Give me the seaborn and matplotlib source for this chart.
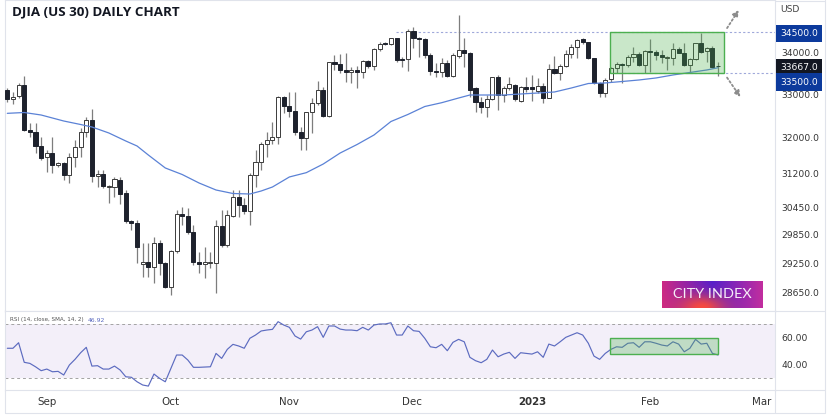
import numpy as np
import pandas as pd
import matplotlib
matplotlib.use("Agg")
import matplotlib.pyplot as plt
import seaborn as sns
from matplotlib.patches import Rectangle
from matplotlib.lines import Line2D
from matplotlib.text import OffsetFrom
import matplotlib.ticker as mticker

# ---------------- data ----------------
opens = [33106, 32887, 32964, 33225, 32174, 32135, 31815, 31553, 31642, 31379,
         31417, 31156, 31560, 31792, 32121, 32404, 31140, 31178, 30897, 30897,
         31045, 30758, 30149, 30106, 29238, 29273, 29181, 29672, 29252, 28767,
         29511, 30293, 30263, 29921, 29287, 29232, 29259, 29259, 30048, 29636,
         30257, 30664, 30495, 30372, 31156, 31454, 31847, 31945, 32007, 32947,
         32730, 32620, 32135, 31984, 32583, 32794, 33106, 32504, 33764, 33733,
         33583, 33528, 33583, 33528, 33788, 33679, 34083, 34245, 34212, 34352,
         33847, 33840, 34539, 34352, 34327, 33944, 33559, 33535, 33743, 33440,
         33927, 34066, 34000, 33147, 32831, 32700, 32887, 33416, 32988, 33147,
         33225, 32847, 33170, 33170, 33082, 33209, 32923, 33607, 33504, 33687,
         33961, 34146, 34327, 34253, 33863, 33265, 33035, 33368, 33623, 33727,
         33703, 33903, 33968, 33703, 34049, 34024, 33944, 33863, 33863, 34083,
         34000, 33703, 33840, 34229, 34041, 34108, 33690]
highs = [33147, 33065, 33280, 33446, 32328, 32328, 32020, 31717, 32020, 31454,
         31440, 31642, 31945, 32213, 32481, 32652, 31268, 31268, 30934, 31118,
         31118, 30824, 30171, 30171, 29679, 29679, 29814, 29744, 29287, 29532,
         30387, 30445, 30424, 30063, 29497, 29600, 29497, 30171, 30387, 30387,
         30824, 30824, 30642, 31194, 31717, 31906, 32135, 32365, 32964, 32964,
         33065, 33065, 32236, 32597, 32910, 33327, 33186, 33780, 33944, 33968,
         33985, 33663, 33679, 33823, 33823, 34108, 34269, 34261, 34360, 34360,
         33903, 34573, 34638, 34376, 34352, 33985, 33743, 33863, 33823, 33985,
         34928, 34352, 34024, 33186, 32934, 32988, 33423, 33463, 33202, 33423,
         33242, 33202, 33423, 33463, 33399, 33265, 33719, 33927, 33719, 34066,
         34205, 34335, 34352, 34269, 33879, 33289, 33384, 33663, 33783, 33743,
         33944, 34146, 34024, 34066, 34327, 34066, 34066, 33920, 34245, 34146,
         34229, 33863, 34245, 34490, 34146, 34163, 33783]
lows = [32831, 32771, 32910, 32160, 32020, 31642, 31492, 31230, 31194, 31341,
        31045, 30972, 31341, 31566, 32020, 31007, 30897, 30861, 30532, 30677,
        30517, 30106, 29957, 29259, 28967, 28967, 28843, 29008, 28734, 28598,
        29461, 30063, 29872, 29216, 29044, 28940, 29147, 28633, 29600, 29600,
        30242, 30242, 30300, 30063, 30897, 31268, 31566, 31854, 31854, 32574,
        32467, 32059, 31717, 31717, 32098, 32753, 32481, 32481, 33583, 33504,
        33304, 33265, 33147, 33384, 33623, 33583, 34049, 34188, 34188, 33783,
        33663, 33559, 34108, 33903, 33863, 33463, 33423, 33423, 33423, 33423,
        33863, 33663, 32947, 32597, 32559, 32481, 32870, 32636, 32831, 33106,
        32847, 32816, 33065, 32847, 33027, 32794, 32910, 33480, 33344, 33663,
        33863, 33863, 34212, 33847, 33242, 32947, 32940, 33304, 33504, 33265,
        33663, 33783, 33679, 33504, 33543, 33823, 33743, 33583, 33703, 33985,
        33679, 33543, 33823, 33985, 33783, 33623, 33440]
closes = [32887, 32947, 33225, 32174, 32135, 31815, 31544, 31642, 31379, 31417,
          31156, 31560, 31792, 32121, 32404, 31140, 31178, 30919, 30919, 31060,
          30736, 30149, 30113, 29594, 29273, 29181, 29672, 29252, 28767, 29511,
          30293, 30263, 29921, 29287, 29232, 29273, 29270, 30048, 29636, 30278,
          30664, 30495, 30372, 31156, 31454, 31847, 31945, 32007, 32947, 32730,
          32620, 32135, 31984, 32583, 32794, 33106, 32504, 33764, 33733, 33583,
          33543, 33583, 33528, 33788, 33679, 34083, 34212, 34212, 34352, 33823,
          33823, 34539, 34352, 34327, 33944, 33559, 33535, 33743, 33440, 33944,
          34066, 34000, 33106, 32831, 32700, 32887, 33408, 32988, 33147, 33242,
          32894, 33170, 33137, 33130, 33209, 32923, 33607, 33504, 33687, 33961,
          34146, 34310, 34253, 33863, 33265, 33028, 33344, 33623, 33727, 33695,
          33903, 33968, 33703, 34049, 34024, 33944, 33888, 33883, 34083, 34000,
          33703, 33840, 34229, 34024, 34108, 33663, 33667]

ma_index = [0, 3, 6, 10, 13, 15, 18, 21, 23, 25, 28, 31, 34, 37, 40, 43, 45, 47,
            50, 53, 56, 59, 62, 65, 68, 71, 74, 77, 80, 82, 85, 88, 91, 94, 97,
            100, 103, 106, 109, 112, 115, 118, 121, 124, 126]
ma_values = [32559, 32578, 32520, 32381, 32300, 32243, 32105, 31922, 31808, 31604,
             31313, 31167, 30978, 30824, 30747, 30736, 30802, 30890, 31112, 31208,
             31401, 31649, 31842, 32059, 32369, 32532, 32718, 32807, 32917, 32988,
             32988, 32988, 33012, 33035, 33059, 33154, 33260, 33273, 33308, 33344,
             33392, 33463, 33523, 33583, 33637]

rsi_values = [51.9, 51.9, 56.0, 41.5, 40.7, 38.2, 35.3, 36.5, 34.5, 34.8,
              32.1, 39.5, 43.7, 48.6, 52.6, 38.7, 39.0, 36.5, 36.5, 38.7,
              35.8, 30.8, 30.4, 27.1, 24.7, 23.9, 32.8, 29.6, 27.1, 37.0,
              46.9, 46.9, 43.2, 37.8, 37.8, 38.0, 38.2, 48.1, 44.4, 51.1,
              54.8, 53.6, 51.9, 59.3, 61.7, 64.7, 65.4, 65.9, 71.6, 69.1,
              67.4, 61.0, 58.7, 64.1, 65.4, 67.9, 60.0, 68.4, 68.4, 66.1,
              65.4, 65.4, 64.9, 67.4, 65.4, 69.1, 69.9, 69.9, 70.8, 61.7,
              61.7, 68.4, 64.9, 64.4, 59.3, 53.0, 52.3, 54.8, 50.1, 56.3,
              58.5, 56.7, 45.2, 42.7, 41.2, 43.7, 50.6, 45.6, 47.6, 48.9,
              44.4, 48.6, 48.1, 47.6, 49.3, 45.2, 55.0, 53.6, 56.7, 60.0,
              61.7, 63.4, 61.7, 55.6, 46.1, 43.7, 48.1, 51.1, 53.0, 52.6,
              55.6, 56.0, 52.6, 56.7, 56.7, 55.6, 54.3, 53.6, 56.7, 55.0,
              49.3, 51.9, 58.5, 55.0, 55.6, 48.1, 46.92]

price_ticks = [34000, 33000, 32000, 31200, 30450, 29850, 29250, 28650]
price_labels = [34500.0, 33667.0, 33500.0]
rsi_ticks = [60, 40]
month_pos = [7.0, 29.0, 49.9, 71.7, 93.0, 114.0, 133.8]
month_labels = ["Sep", "Oct", "Nov", "Dec", "2023", "Feb", "Mar"]

range_start, range_end = 106.9, 127.0
range_low, range_high = 33500, 34500
rsi_box_start, rsi_box_end = 106.9, 125.9
rsi_box_low, rsi_box_high = 47.6, 59.3
level_line_start = 68.9

# ---------------- figure ----------------
sns.set_theme(style="white")
plt.rcParams["font.family"] = ["DejaVu Sans"]

W, H = 831, 417
fig = plt.figure(figsize=(W / 100, H / 100), dpi=100)
fig.patch.set_facecolor("white")


def fx(px):
    return px / W


def fy(py):
    return 1 - py / H


LEFT, RIGHT = 5, 774.5
ax = fig.add_axes([fx(LEFT), fy(311), fx(RIGHT) - fx(LEFT), fy(0) - fy(311)])
rax = fig.add_axes([fx(LEFT), fy(390), fx(RIGHT) - fx(LEFT), fy(311) - fy(390)])

df = pd.DataFrame({"o": opens, "h": highs, "l": lows, "c": closes})
df["x"] = np.arange(len(df))
up = df["c"] >= df["o"]
body_bottom = np.minimum(df["o"], df["c"])
body_height = np.maximum(np.abs(df["c"] - df["o"]), 22)

ax.set_yscale("log")
ax.vlines(df["x"], df["l"], df["h"], color="#7d7d7d", lw=0.9, zorder=2)
ax.bar(df["x"][up], body_height[up], bottom=body_bottom[up], width=0.72,
       color="white", edgecolor="#3b3b3b", linewidth=0.7, zorder=3)
ax.bar(df["x"][~up], body_height[~up], bottom=body_bottom[~up], width=0.72,
       color="#1e222d", edgecolor="#1e222d", linewidth=0.7, zorder=3)

ma_df = pd.DataFrame({"x": ma_index, "ma": ma_values})
sns.lineplot(data=ma_df, x="x", y="ma", ax=ax, color="#5b82d6", lw=0.9, zorder=4)

# horizontal level lines
xmin, xmax = -0.41, 136.0
ax.hlines(range_high, level_line_start, xmax, color="#9fa8da", lw=0.8,
          linestyles=(0, (2, 2)), zorder=1)
ax.hlines(range_low, range_start, xmax, color="#9fa8da", lw=0.8,
          linestyles=(0, (2, 2)), zorder=1)

# consolidation box
ax.add_patch(Rectangle((range_start, range_low), range_end - range_start,
                       range_high - range_low, facecolor=(0.30, 0.69, 0.31, 0.30),
                       edgecolor="#4caf50", lw=1.0, zorder=5))

# breakout arrows
arrow_kw = dict(arrowstyle="-|>", color="#8c8c8c", lw=1.3,
                linestyle=(0, (1, 1.4)), mutation_scale=9, shrinkA=0, shrinkB=0)
ref_top = OffsetFrom(ax.transData, (range_end, range_high), unit="points")
ax.annotate("", xy=(10.8, 16), xycoords=ref_top, xytext=(2.4, 3),
            textcoords=ref_top, arrowprops=arrow_kw, annotation_clip=False)
ref_bot = OffsetFrom(ax.transData, (range_end, range_low), unit="points")
ax.annotate("", xy=(12, -17), xycoords=ref_bot, xytext=(2.4, -3),
            textcoords=ref_bot, arrowprops=arrow_kw, annotation_clip=False)

ax.set_xlim(xmin, xmax)
ax.set_ylim(28272, 35304)
ax.yaxis.set_major_locator(mticker.FixedLocator(price_ticks))
ax.yaxis.set_minor_locator(mticker.NullLocator())
ax.yaxis.set_major_formatter(mticker.FuncFormatter(lambda v, p: f"{v:.1f}"))
ax.yaxis.tick_right()
ax.tick_params(axis="y", length=0, pad=5, labelsize=6.6, labelcolor="#333333")
ax.tick_params(axis="x", bottom=False, labelbottom=False)
ax.set_xlabel("")
ax.set_ylabel("")

# price label boxes
box_colors = ["#0c3a9c", "#131722", "#0c3a9c"]
box_offsets = [-0.8, -1.0, -6.2]
for val, col, off in zip(price_labels, box_colors, box_offsets):
    ax.annotate(f"{val:.1f}", xy=(1, val), xycoords=ax.get_yaxis_transform(),
                xytext=(4.3, off), textcoords="offset points", ha="left",
                va="center", fontsize=6.6, color="white", annotation_clip=False,
                bbox=dict(boxstyle="square,pad=0.45", fc=col, ec="none"),
                zorder=10)

# ---------------- RSI panel ----------------
rax.axhspan(30, 70, color="#7e57c2", alpha=0.09, lw=0, zorder=0)
rax.axhline(70, color="#a3a3a3", lw=0.7, ls=(0, (3, 3)), zorder=1)
rax.axhline(30, color="#a3a3a3", lw=0.7, ls=(0, (3, 3)), zorder=1)
rsi_df = pd.DataFrame({"x": np.arange(len(rsi_values)), "rsi": rsi_values})
sns.lineplot(data=rsi_df, x="x", y="rsi", ax=rax, color="#5c6bc0", lw=0.85, zorder=3)
rax.add_patch(Rectangle((rsi_box_start, rsi_box_low), rsi_box_end - rsi_box_start,
                        rsi_box_high - rsi_box_low,
                        facecolor=(0.30, 0.69, 0.31, 0.30), edgecolor="#4caf50",
                        lw=1.0, zorder=4))
rax.set_xlim(xmin, xmax)
rax.set_ylim(21, 79.5)
rax.yaxis.set_major_locator(mticker.FixedLocator(rsi_ticks))
rax.yaxis.set_major_formatter(mticker.FuncFormatter(lambda v, p: f"{v:.2f}"))
rax.yaxis.tick_right()
rax.tick_params(axis="y", length=0, pad=5, labelsize=6.6, labelcolor="#333333")
rax.set_xticks(month_pos)
rax.set_xticklabels(month_labels)
rax.tick_params(axis="x", length=0, pad=5, labelsize=7.4, labelcolor="#333333")
for lbl in rax.get_xticklabels():
    if lbl.get_text() == "2023":
        lbl.set_fontweight("bold")
rax.set_xlabel("")
rax.set_ylabel("")

for a in (ax, rax):
    for s in a.spines.values():
        s.set_color("#e0e3eb")
        s.set_linewidth(0.8)

# frame lines
def fline(x0, y0, x1, y1):
    fig.add_artist(Line2D([fx(x0), fx(x1)], [fy(y0), fy(y1)],
                          transform=fig.transFigure, color="#e0e3eb", lw=0.8))

fline(825, 0, 825, 413)
fline(LEFT, 413, 825, 413)
fline(LEFT, 390, LEFT, 413)
fline(RIGHT, 390, RIGHT, 413)
fline(RIGHT, 311, 825, 311)
fline(RIGHT, 390, 825, 390)
fline(RIGHT, 0.5, 825, 0.5)

# texts
fig.text(fx(12), fy(12), "DJIA (US 30) DAILY CHART", fontsize=9.6,
         fontweight="bold", family=["Open Sans", "DejaVu Sans"], color="#131722",
         ha="left", va="center")
fig.text(fx(780), fy(9), "USD", fontsize=6.6, color="#444444", ha="left", va="center")
fig.text(fx(10), fy(320), "RSI (14, close, SMA, 14, 2)", fontsize=4.1,
         color="#555555", ha="left", va="center")
fig.text(fx(88), fy(320), f"{rsi_values[-1]:.2f}", fontsize=4.4, color="#5c6bc0",
         ha="left", va="center")

# logo
lax = fig.add_axes([fx(662.3), fy(307.7), fx(763.3) - fx(662.3), fy(281) - fy(307.7)])
u, v = np.meshgrid(np.linspace(0, 1, 200), np.linspace(0, 1, 60))
left_c = np.array([0.80, 0.16, 0.52])
mid_c = np.array([0.33, 0.12, 0.80])
right_c = np.array([0.76, 0.18, 0.62])
t1 = np.clip(u / 0.5, 0, 1)[..., None]
t2 = np.clip((u - 0.5) / 0.5, 0, 1)[..., None]
base = np.where((u < 0.5)[..., None], left_c + (mid_c - left_c) * t1,
                mid_c + (right_c - mid_c) * t2)
red_c = np.array([1.0, 0.30, 0.22])
wgt = (0.95 * np.exp(-((u - 0.4) ** 2 / 0.06 + (v - 1.0) ** 2 / 0.25)))[..., None]
img = base * (1 - wgt) + red_c * wgt
lax.imshow(img, aspect="auto", extent=(0, 1, 0, 1))
lax.set_axis_off()
lax.text(0.5, 0.5, "CITY INDEX", color="#f6eef8", fontsize=10.4,
         family=["Lato", "DejaVu Sans"], ha="center", va="center")

fig.savefig("out.png", dpi=100)
